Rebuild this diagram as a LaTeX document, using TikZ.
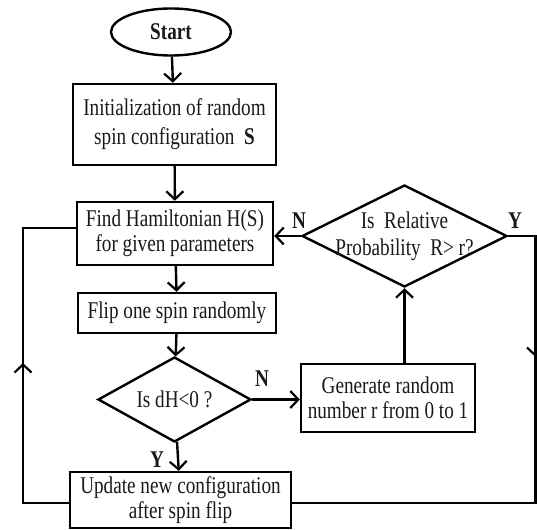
\documentclass[tikz,border=0pt]{standalone}
\usepackage{fontspec}
\setmainfont{Liberation Serif}[FakeStretch=0.8]
\usetikzlibrary{arrows.meta,shapes.geometric}
\begin{document}
\begin{tikzpicture}[x=1pt,y=-1pt,
  txt/.style={font=\fontsize{24}{25}\selectfont, text=black!90},
  box/.style={txt, draw, line width=2.4pt, align=center, inner sep=0pt},
  dia/.style={draw, diamond, line width=2.4pt, inner sep=0pt},
  ln/.style={line width=2.4pt},
  arr/.style={line width=2.4pt, -{Straight Barb[length=8pt,width=17pt,line width=2.2pt]}},
  lbl/.style={txt, font=\fontsize{24}{25}\selectfont\bfseries}
]
\useasboundingbox (0,0) rectangle (537,529);

\node[txt, draw, ellipse, line width=2.4pt, minimum width=120, minimum height=47, inner sep=0pt] (start) at (171,32) {\textbf{Start}};
\node[box, minimum width=203, minimum height=81, font=\fontsize{24}{29}\selectfont] (init) at (174.5,124.5) {Initialization of random\\spin configuration~~\textbf{S}};
\node[box, minimum width=196, minimum height=63] (find) at (175,233.5) {Find Hamiltonian H(S)\\for given parameters};
\node[box, minimum width=198, minimum height=40] (flip) at (177,313) {Flip one spin randomly};
\node[dia, minimum width=153, minimum height=85] (dh) at (174.5,399.5) {};
\node[txt] (dhtxt) at (dh.center) {Is dH<0 ?};
\node[box, minimum width=221, minimum height=56] (upd) at (180.5,500) {Update new configuration\\after spin flip};
\node[box, minimum width=174, minimum height=68] (gen) at (388,398) {Generate random\\number r from 0 to 1};
\node[dia, minimum width=205, minimum height=102] (rel) at (404.5,236) {};
\node[txt, align=center, font=\fontsize{24}{27}\selectfont] (reltxt) at (rel.center) {Is~~Relative\\Probability~~R>~r?};

\node[lbl] (n1) at (262,379) {N};
\node[lbl] (y1) at (157,460) {Y};
\node[lbl] (n2) at (299,221) {N};
\node[lbl] (y2) at (515,221) {Y};

\draw[arr] (start) -- (init);
\draw[arr] (init) -- (find);
\draw[arr] (find) -- (flip);
\draw[arr] (flip) -- (dh);
\draw[arr] (dh) -- (upd);
\draw[arr] (dh.east) -- (gen.west |- dh.east);
\draw[arr] (gen.north -| rel.south) -- (rel.south);
\draw[arr] (rel.west) -- (find.east |- rel.west);

\coordinate (r1) at (535.5,236);
\coordinate (r2) at (535.5,503);
\coordinate (rm) at (535.5,357);
\draw[ln] (rel.east) -- (r1) -- (r2) -- (upd.east |- r2);
\draw[arr] (r1) -- (rm);

\coordinate (l1) at (23,503);
\coordinate (l2) at (23,228);
\coordinate (lm) at (23,363);
\draw[ln] (upd.west |- l1) -- (l1) -- (l2) -- (find.west |- l2);
\draw[arr] (l1) -- (lm);
\end{tikzpicture}
\end{document}
